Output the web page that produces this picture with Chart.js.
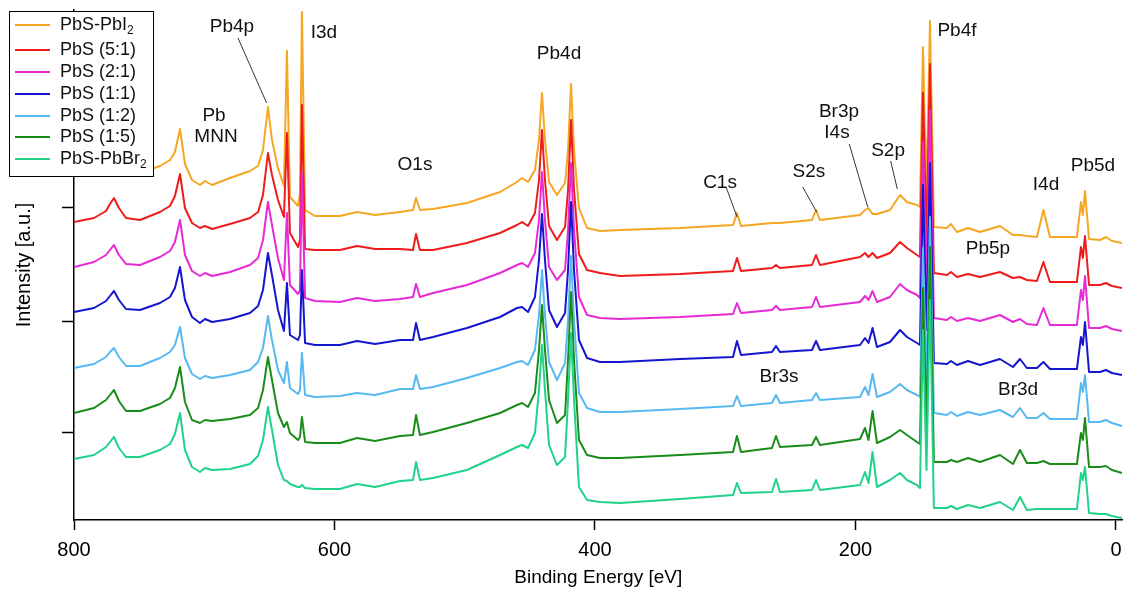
<!DOCTYPE html>
<html>
<head>
<meta charset="utf-8">
<script src="https://cdn.jsdelivr.net/npm/chart.js@4.4.0/dist/chart.umd.min.js"></script>
<style>
  html, body { margin: 0; padding: 0; background: #fff; }
  #wrap { width: 1125px; height: 590px; }
</style>
</head>
<body>
<div id="wrap"><canvas id="xpsChart" width="1125" height="590"></canvas></div>
<script>
const family = '"Liberation Sans", Arial, Helvetica, sans-serif'

// binding energy grid [eV], shared by all spectra
const energies = [
  800.0, 784.6, 775.4, 772.4, 769.3, 765.5, 760.1, 749.3, 734.0, 726.3,
  722.5, 718.6, 714.8, 709.4, 703.3, 699.4, 694.0, 680.2, 664.9, 658.7,
  654.9, 651.1, 648.0, 643.4, 638.8, 636.5, 634.2, 628.0, 626.5, 625.0,
  622.6, 615.0, 595.8, 582.7, 568.9, 549.7, 539.7, 537.4, 534.4, 524.4,
  498.3, 472.9, 459.9, 456.0, 451.4, 446.1, 443.0, 440.7, 438.4, 435.3,
  429.2, 423.0, 420.7, 418.4, 416.1, 412.3, 406.1, 396.2, 380.8, 334.7,
  294.0, 291.0, 287.9, 264.1, 261.0, 258.0, 233.4, 230.3, 227.3, 196.5,
  192.7, 190.0, 186.9, 183.5, 173.5, 165.8, 160.5, 152.8, 150.5, 148.2,
  145.5, 142.8, 139.8, 129.8, 126.7, 122.1, 113.6, 104.4, 89.1, 79.1,
  73.7, 68.4, 60.7, 55.7, 50.7, 30.0, 26.9, 25.4, 23.8, 20.7,
  12.3, 7.7, 3.1, -4.6
]

// intensities (offset spectra, a.u.)
const pbsPbI2 = [
  344, 347, 352, 358, 367, 357, 348, 347, 354, 360,
  368, 391, 356, 340, 335, 339, 335, 342, 349, 354,
  370, 413, 380, 352, 334, 469, 323, 314, 325, 508,
  310, 304, 304, 308, 305, 308, 310, 322, 310, 311,
  317, 328, 338, 342, 338, 350, 380, 427, 380, 338,
  325, 337, 370, 436, 370, 312, 292, 289, 290, 292,
  295, 307, 294, 297, 297, 297, 300, 310, 300, 305,
  310, 312, 306, 306, 310, 325, 318, 315, 313, 473,
  325, 499, 293, 292, 296, 288, 292, 288, 294, 285,
  285, 284, 283, 310, 283, 283, 318, 305, 329, 281,
  280, 283, 279, 277
]
const pbs51 = [
  298, 302, 309, 316, 322, 312, 302, 300, 308, 314,
  324, 346, 312, 297, 292, 294, 291, 296, 302, 308,
  325, 367, 345, 320, 303, 387, 287, 273, 280, 415,
  271, 270, 270, 274, 271, 271, 270, 286, 270, 270,
  277, 287, 295, 298, 294, 307, 340, 390, 340, 294,
  280, 293, 330, 400, 330, 266, 250, 247, 244, 246,
  249, 262, 249, 252, 255, 252, 255, 265, 255, 263,
  267, 263, 267, 262, 267, 278, 272, 265, 263, 427,
  280, 456, 247, 245, 248, 243, 246, 243, 248, 242,
  243, 240, 239, 258, 238, 238, 273, 262, 284, 235,
  235, 237, 234, 232
]
const pbs21 = [
  253, 258, 265, 270, 275, 265, 256, 255, 263, 269,
  278, 300, 265, 249, 244, 247, 244, 248, 255, 262,
  280, 318, 295, 262, 240, 307, 235, 226, 230, 347,
  222, 219, 218, 222, 219, 221, 223, 236, 223, 227,
  235, 247, 255, 257, 253, 267, 300, 348, 300, 253,
  240, 250, 290, 357, 290, 223, 205, 202, 201, 203,
  206, 217, 207, 210, 214, 210, 213, 223, 213, 218,
  224, 220, 229, 218, 223, 236, 230, 225, 222, 378,
  235, 410, 202, 200, 203, 199, 202, 199, 205, 198,
  201, 196, 195, 212, 195, 195, 230, 220, 244, 192,
  192, 194, 191, 189
]
const pbs11 = [
  208, 212, 219, 224, 229, 220, 211, 210, 217, 223,
  232, 253, 220, 203, 197, 201, 198, 201, 207, 214,
  230, 267, 245, 210, 189, 237, 185, 180, 185, 250,
  177, 175, 175, 179, 176, 180, 180, 197, 180, 183,
  192, 203, 212, 213, 208, 223, 260, 306, 260, 210,
  193, 207, 250, 318, 250, 180, 162, 158, 158, 161,
  163, 179, 165, 168, 174, 168, 170, 179, 170, 175,
  182, 177, 192, 173, 178, 190, 183, 177, 175, 335,
  190, 357, 157, 156, 159, 155, 159, 155, 161, 153,
  161, 152, 152, 158, 151, 151, 183, 175, 198, 148,
  148, 150, 147, 145
]
const pbs12 = [
  152, 156, 163, 168, 172, 163, 154, 154, 162, 168,
  175, 193, 162, 146, 141, 144, 142, 145, 150, 158,
  172, 204, 180, 150, 137, 158, 132, 126, 130, 167,
  125, 123, 124, 127, 125, 131, 131, 145, 131, 133,
  142, 152, 158, 159, 155, 170, 205, 250, 205, 158,
  140, 157, 200, 264, 200, 127, 112, 108, 108, 111,
  114, 124, 114, 117, 125, 117, 120, 127, 120, 123,
  133, 125, 146, 123, 128, 136, 130, 125, 123, 272,
  140, 303, 107, 105, 108, 104, 108, 105, 110, 103,
  112, 102, 102, 107, 101, 101, 137, 128, 145, 98,
  98, 100, 97, 94
]
const pbs15 = [
  107, 112, 120, 125, 130, 119, 109, 109, 116, 122,
  132, 153, 118, 100, 97, 100, 99, 101, 105, 112,
  130, 163, 140, 107, 93, 98, 87, 80, 83, 103,
  78, 77, 77, 82, 79, 84, 85, 105, 85, 88,
  97, 107, 115, 117, 113, 127, 170, 215, 170, 120,
  97, 105, 160, 228, 160, 80, 65, 62, 62, 65,
  68, 84, 68, 72, 84, 73, 75, 83, 75, 81,
  92, 80, 109, 77, 83, 90, 85, 78, 76, 232,
  95, 273, 58, 58, 60, 58, 62, 58, 65, 56,
  70, 57, 57, 59, 56, 56, 87, 80, 102, 53,
  53, 54, 50, 47
]
const pbsPbBr2 = [
  61, 65, 73, 78, 83, 72, 63, 63, 70, 76,
  86, 107, 70, 53, 48, 52, 50, 51, 56, 64,
  80, 113, 90, 55, 40, 39, 36, 33, 33, 35,
  32, 31, 31, 36, 33, 39, 40, 58, 40, 42,
  50, 65, 73, 75, 72, 87, 130, 175, 130, 75,
  55, 63, 120, 187, 120, 33, 20, 18, 17, 21,
  25, 37, 27, 28, 41, 28, 30, 40, 30, 35,
  48, 37, 68, 33, 40, 47, 40, 35, 32, 190,
  50, 220, 12, 12, 14, 11, 15, 12, 18, 10,
  23, 10, 11, 11, 11, 11, 47, 40, 53, 7,
  6, 6, 4, 2
]

const seriesNames = ['PbS-PbI₂', 'PbS (5:1)', 'PbS (2:1)', 'PbS (1:1)', 'PbS (1:2)', 'PbS (1:5)', 'PbS-PbBr₂']
const seriesColors = ['#f5a623', '#ee1c1c', '#e62ad6', '#1616d0', '#56b9ef', '#1a8c1a', '#20d28a']
const seriesValues = [pbsPbI2, pbs51, pbs21, pbs11, pbs12, pbs15, pbsPbBr2]

const xTicks = [800, 600, 400, 200, 0]
const yTicks = [87, 199, 312, 424]

// peak labels, placed in data coordinates (eV, a.u.); lead = leader line
const peakLabels = [
  { text: 'Pb4p', e: 678.7, i: 493, lead: [674.1, 482, 652.1, 417] },
  { text: 'I3d', e: 608.1, i: 487 },
  { text: 'Pb', e: 692.5, i: 404 },
  { text: 'MNN', e: 691.0, i: 383 },
  { text: 'O1s', e: 538.2, i: 355 },
  { text: 'Pb4d', e: 427.6, i: 466 },
  { text: 'C1s', e: 304.0, i: 337, lead: [299.4, 333, 290.9, 303] },
  { text: 'S2s', e: 235.7, i: 348, lead: [240.5, 333, 229.8, 308] },
  { text: 'Br3p', e: 212.7, i: 408 },
  { text: 'I4s', e: 214.2, i: 387, lead: [204.8, 376, 190.6, 313] },
  { text: 'S2p', e: 175.0, i: 369, lead: [173.0, 359, 167.9, 331] },
  { text: 'Pb4f', e: 122.1, i: 489 },
  { text: 'I4d', e: 53.7, i: 335 },
  { text: 'Pb5d', e: 17.7, i: 354 },
  { text: 'Pb5p', e: 98.3, i: 271 },
  { text: 'Br3s', e: 258.7, i: 143 },
  { text: 'Br3d', e: 75.2, i: 130 }
]

// draws text where '₂' becomes a lowered, smaller 2
function drawSubText(ctx, text, x, y, size) {
  let cx = x
  text.split(/(₂)/).forEach((part) => {
    if (!part) return
    if (part === '₂') {
      ctx.font = `${Math.round(size * 0.68)}px ${family}`
      ctx.fillText('2', cx, y + size * 0.32)
      cx += ctx.measureText('2').width
      ctx.font = `${size}px ${family}`
    } else {
      ctx.fillText(part, cx, y)
      cx += ctx.measureText(part).width
    }
  })
}

const labelsPlugin = {
  id: 'peakLabels',
  afterDatasetsDraw(chart) {
    const ctx = chart.ctx
    const xs = chart.scales.x
    const ys = chart.scales.y
    ctx.save()
    ctx.fillStyle = '#111'
    ctx.font = `19px ${family}`
    ctx.textAlign = 'center'
    ctx.textBaseline = 'middle'
    peakLabels.forEach((lab) => {
      ctx.fillText(lab.text, xs.getPixelForValue(lab.e), ys.getPixelForValue(lab.i))
      if (lab.lead) {
        ctx.strokeStyle = '#333'
        ctx.lineWidth = 1
        ctx.beginPath()
        ctx.moveTo(xs.getPixelForValue(lab.lead[0]), ys.getPixelForValue(lab.lead[1]))
        ctx.lineTo(xs.getPixelForValue(lab.lead[2]), ys.getPixelForValue(lab.lead[3]))
        ctx.stroke()
      }
    })
    ctx.restore()
  }
}

const legendPlugin = {
  id: 'boxLegend',
  afterDraw(chart) {
    const ctx = chart.ctx
    const rows = [25, 50, 72, 94, 116, 137, 159]
    ctx.save()
    ctx.fillStyle = '#fff'
    ctx.fillRect(9.5, 11, 144, 166)
    ctx.strokeStyle = '#000'
    ctx.lineWidth = 1
    ctx.strokeRect(9.5, 11.5, 144, 165)
    ctx.textAlign = 'left'
    ctx.textBaseline = 'middle'
    seriesNames.forEach((name, k) => {
      ctx.strokeStyle = seriesColors[k]
      ctx.lineWidth = 2
      ctx.beginPath()
      ctx.moveTo(15, rows[k])
      ctx.lineTo(50, rows[k])
      ctx.stroke()
      ctx.fillStyle = '#111'
      ctx.font = `18px ${family}`
      drawSubText(ctx, name, 60, rows[k], 18)
    })
    ctx.restore()
  }
}

const datasets = seriesValues.map((vals, k) => ({
  label: seriesNames[k],
  data: energies.map((e, i) => ({ x: e, y: vals[i] })),
  borderColor: seriesColors[k],
  backgroundColor: seriesColors[k],
  borderWidth: 2,
  borderJoinStyle: 'round',
  pointRadius: 0,
  tension: 0,
  fill: false,
  order: seriesValues.length - k // later samples drawn on top
}))

new Chart(document.getElementById('xpsChart'), {
  type: 'line',
  data: { datasets },
  options: {
    responsive: false,
    devicePixelRatio: 1,
    animation: false,
    layout: { padding: { left: 0, top: 10, right: 2.5, bottom: 0 } },
    plugins: { legend: { display: false }, tooltip: { enabled: false } },
    scales: {
      x: {
        type: 'linear',
        reverse: true,
        min: -5,
        max: 800,
        afterBuildTicks: (s) => { s.ticks = xTicks.map((v) => ({ value: v })) },
        afterFit: (s) => { s.height = 70; s.paddingLeft = 0; s.paddingRight = 0 },
        grid: { drawOnChartArea: false, drawTicks: true, tickLength: 10, tickWidth: 1.5, tickColor: '#000' },
        border: { display: true, color: '#000', width: 1.5 },
        ticks: { color: '#000', font: { size: 20, family }, padding: 8, maxRotation: 0, autoSkip: false },
        title: { display: true, text: 'Binding Energy [eV]', color: '#000', font: { size: 19, family }, padding: { top: 0, bottom: 1 } }
      },
      y: {
        type: 'linear',
        min: 0,
        max: 510,
        afterBuildTicks: (s) => { s.ticks = yTicks.map((v) => ({ value: v })) },
        afterFit: (s) => { s.width = 74; s.paddingTop = 0; s.paddingBottom = 0 },
        grid: { drawOnChartArea: false, drawTicks: true, tickLength: 12, tickWidth: 1.5, tickColor: '#000' },
        border: { display: true, color: '#000', width: 1.5 },
        ticks: { display: false },
        title: { display: true, text: 'Intensity [a.u.]', color: '#000', font: { size: 20, family }, padding: { top: 12, bottom: 0 } }
      }
    }
  },
  plugins: [labelsPlugin, legendPlugin]
})
</script>
</body>
</html>
